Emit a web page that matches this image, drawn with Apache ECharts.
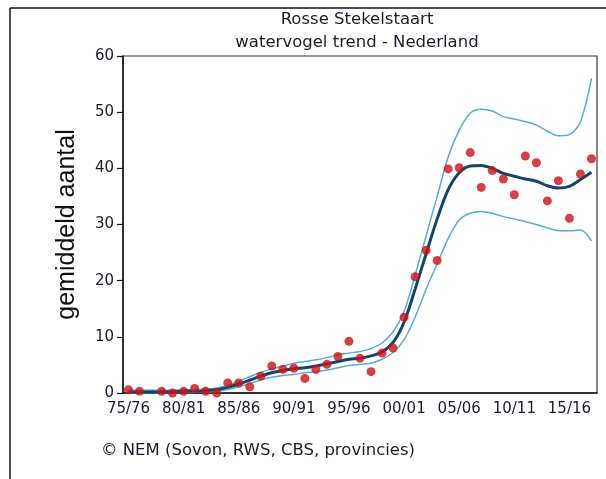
<!DOCTYPE html>
<html>
<head>
<meta charset="utf-8">
<script src="https://cdn.jsdelivr.net/npm/echarts@6/dist/echarts.min.js"></script>
<style>
html,body{margin:0;padding:0;background:#fff;}
#chart{width:606px;height:479px;}
</style>
</head>
<body>
<div id="chart"></div>
<script>
var seasons = ['75/76','76/77','77/78','78/79','79/80','80/81','81/82','82/83','83/84','84/85',
  '85/86','86/87','87/88','88/89','89/90','90/91','91/92','92/93','93/94','94/95',
  '95/96','96/97','97/98','98/99','99/00','00/01','01/02','02/03','03/04','04/05',
  '05/06','06/07','07/08','08/09','09/10','10/11','11/12','12/13','13/14','14/15',
  '15/16','16/17','17/18'];
var counts = [0.6,0.3,null,0.3,0.0,0.3,0.8,0.3,0.0,1.8,
  1.8,1.1,3.0,4.8,4.2,4.4,2.6,4.2,5.1,6.5,
  9.2,6.2,3.8,7.1,8.0,13.5,20.7,25.4,23.6,39.9,
  40.1,42.8,36.6,39.6,38.1,35.3,42.2,41.0,34.2,37.8,
  31.1,39.0,41.7];
var trend = [0.2,0.2,0.2,0.2,0.2,0.3,0.3,0.4,0.6,1.0,
  1.6,2.3,3.0,3.6,4.0,4.3,4.5,4.8,5.2,5.6,
  6.0,6.2,6.6,7.3,9.0,12.6,18.5,24.8,31.0,36.2,
  39.2,40.4,40.5,40.0,39.1,38.6,38.1,37.7,36.9,36.5,
  36.8,38.0,39.3];
var upper = [0.5,0.5,0.5,0.5,0.5,0.6,0.6,0.7,0.9,1.4,
  2.1,2.9,3.7,4.3,4.8,5.3,5.6,5.9,6.3,6.8,
  7.1,7.4,7.9,8.9,10.9,14.5,21.0,28.0,35.0,42.0,
  46.8,49.8,50.5,50.2,49.2,48.8,48.3,47.7,46.6,45.8,
  46.0,48.3,56.0];
var lower = [0.0,0.0,0.0,0.0,0.0,0.1,0.1,0.2,0.3,0.6,
  1.1,1.7,2.3,2.8,3.1,3.3,3.6,3.8,4.1,4.5,
  4.9,5.1,5.3,6.0,7.2,9.5,13.5,18.5,23.0,27.5,
  30.8,32.0,32.3,32.0,31.4,31.0,30.5,30.0,29.4,28.9,
  28.9,29.0,27.1];
var yTicks = [0,10,20,30,40,50,60];
var titleLines = ['Rosse Stekelstaart', 'watervogel trend - Nederland'];
var yName = 'gemiddeld aantal';
var footer = '\u00A9 NEM (Sovon, RWS, CBS, provincies)';

var chart = echarts.init(document.getElementById('chart'), null, {renderer:'canvas'});
var txtColor = '#1c1a30';
var font = 'DejaVu Sans';
chart.setOption({
  animation: false,
  backgroundColor: '#fff',
  title: {
    text: titleLines.join('\n'),
    left: 352, top: 3, textAlign: 'center',
    textStyle: {fontFamily: font, fontSize: 16.5, fontWeight: 'normal', color: txtColor, lineHeight: 23}
  },
  graphic: [
    {type:'line', shape:{x1:10, y1:8, x2:606, y2:8}, style:{stroke:'#111', lineWidth:1.5}},
    {type:'line', shape:{x1:10, y1:8, x2:10, y2:479}, style:{stroke:'#111', lineWidth:1.5}},
    {type:'text', left: 101, top: 442, style:{text: footer, fontFamily: font, fontSize: 16.5, fill: txtColor}}
  ],
  grid: {left: 123, right: 9, top: 56, bottom: 86, show: true, borderColor: '#333', borderWidth: 1.2},
  xAxis: {
    type: 'category', data: seasons, boundaryGap: true,
    axisLine: {lineStyle: {color: '#111', width: 1.5}},
    axisTick: {interval: 4, alignWithLabel: true, length: 6, lineStyle: {color: '#111', width: 1.2}},
    axisLabel: {interval: 4, margin: 9, fontFamily: font, fontSize: 15, color: txtColor}
  },
  yAxis: {
    type: 'value', min: yTicks[0], max: yTicks[yTicks.length-1], interval: 10,
    name: yName, nameLocation: 'middle', nameGap: 43, nameRotate: 90,
    nameTextStyle: {fontFamily: 'Liberation Sans', fontSize: 25, color: '#111'},
    splitLine: {show: false},
    axisLine: {show: true, lineStyle: {color: '#111', width: 1.5}},
    axisTick: {show: true, length: 6, lineStyle: {color: '#111', width: 1.2}},
    axisLabel: {margin: 9, fontFamily: font, fontSize: 15, color: txtColor}
  },
  series: [
    {type: 'line', data: upper, smooth: 0.3, symbol: 'none', lineStyle: {color: '#55acd6', width: 1.5}, z: 2},
    {type: 'line', data: lower, smooth: 0.3, symbol: 'none', lineStyle: {color: '#55acd6', width: 1.5}, z: 2},
    {type: 'line', data: trend, smooth: 0.3, symbol: 'none', lineStyle: {color: '#0f4670', width: 3}, z: 3},
    {type: 'scatter', data: counts, symbol: 'circle', symbolSize: 9, clip: false, itemStyle: {color: '#cc1015'}, z: 4}
  ]
});
</script>
</body>
</html>
